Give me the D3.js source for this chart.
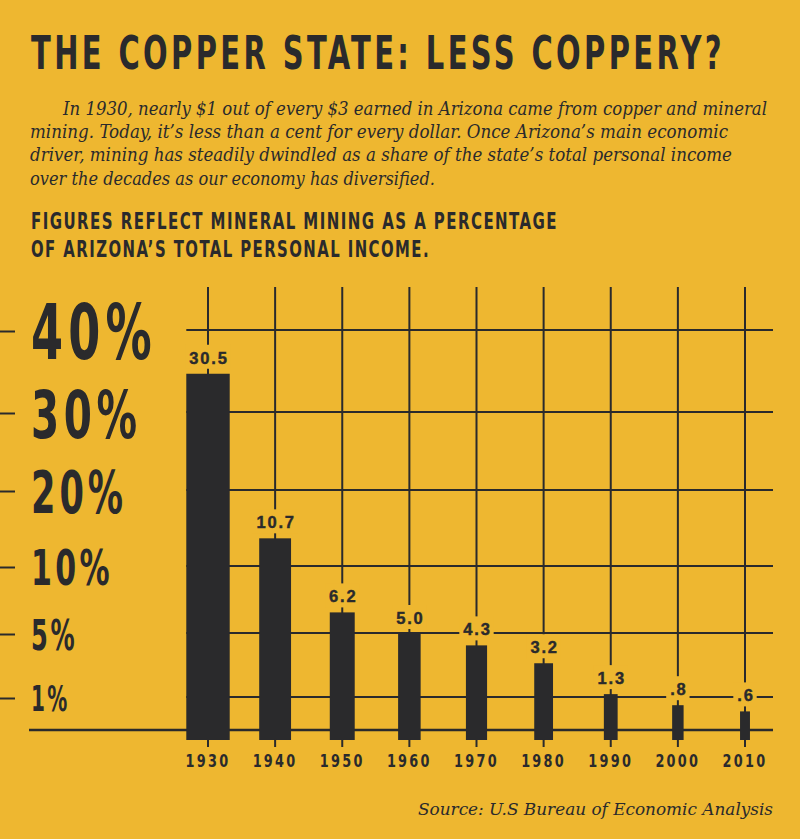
<!DOCTYPE html>
<html>
<head>
<meta charset="utf-8">
<script src="https://cdn.jsdelivr.net/npm/d3@7"></script>
<style>
  body { margin: 0; background: #eeb730; }
  svg { display: block; }
  .cond { font-family: "DejaVu Sans Condensed", "DejaVu Sans", sans-serif; font-stretch: condensed; font-weight: bold; }
  .serif { font-family: "DejaVu Serif Condensed", "DejaVu Serif", serif; font-stretch: condensed; font-style: italic; }
  .val { font-family: "Liberation Sans", Arial, sans-serif; font-weight: bold; }
</style>
</head>
<body>
<script>
// ---- data ----
var years = ["1930", "1940", "1950", "1960", "1970", "1980", "1990", "2000", "2010"];
var share = [30.5, 10.7, 6.2, 5.0, 4.3, 3.2, 1.3, 0.8, 0.6];
var shareLabels = ["30.5", "10.7", "6.2", "5.0", "4.3", "3.2", "1.3", ".8", ".6"];
var yTicks = [1, 5, 10, 20, 30, 40];

var title = "THE COPPER STATE: LESS COPPERY?";
var intro = [
  "In 1930, nearly $1 out of every $3 earned in Arizona came from copper and mineral",
  "mining. Today, it\u2019s less than a cent for every dollar. Once Arizona\u2019s main economic",
  "driver, mining has steadily dwindled as a share of the state\u2019s total personal income",
  "over the decades as our economy has diversified."
];
var subtitle = ["FIGURES REFLECT MINERAL MINING AS A PERCENTAGE", "OF ARIZONA\u2019S TOTAL PERSONAL INCOME."];
var source = "Source: U.S Bureau of Economic Analysis";

// ---- layout ----
var W = 800, H = 839;
var ink = "#2a2a2c";
var paper = "#eeb730";
var base = 730;

var svg = d3.select("body").append("svg").attr("width", W).attr("height", H);
svg.append("rect").attr("width", W).attr("height", H).attr("fill", paper);

// header
svg.append("text").attr("class", "cond")
  .attr("x", 31).attr("y", 69).attr("font-size", 47)
  .attr("letter-spacing", 5)
  .attr("textLength", 694).attr("lengthAdjust", "spacingAndGlyphs")
  .attr("fill", ink).text(title);

var introX = [63, 30, 30, 30], introLen = [704, 698, 702, 405];
svg.selectAll(".intro").data(intro).enter().append("text")
  .attr("class", "serif intro")
  .attr("x", function(d, i) { return introX[i]; })
  .attr("y", function(d, i) { return 115 + i * 23.2; })
  .attr("font-size", 18.5)
  .attr("textLength", function(d, i) { return introLen[i]; })
  .attr("lengthAdjust", "spacingAndGlyphs")
  .attr("fill", ink).text(function(d) { return d; });

var subLen = [527, 399];
svg.selectAll(".sub").data(subtitle).enter().append("text")
  .attr("class", "cond sub")
  .attr("x", 31).attr("y", function(d, i) { return 229 + i * 28; })
  .attr("font-size", 23)
  .attr("letter-spacing", 2)
  .attr("textLength", function(d, i) { return subLen[i]; })
  .attr("lengthAdjust", "spacingAndGlyphs")
  .attr("fill", ink).text(function(d) { return d; });

// ---- scales ----
var x = d3.scalePoint().domain(years).range([208, 745]);

// gridline scale (the printed axis is stretched, not linear)
var yGrid = d3.scaleLinear()
  .domain([0, 1, 5, 10, 20, 30, 40])
  .range([base, 697, 633, 566, 490, 412, 330]);

// the bars use their own stretched scale, like the print
var yBar = d3.scaleLinear()
  .domain([0, 1, 5, 10, 20, 30, 40])
  .range([base, 699, 634, 544, 463, 378, 293]);

function barW(v) { return 2.3 * Math.sqrt(base - yBar(v)); }

var gridLeft = x(years[0]) - barW(share[0]) / 2;
var gridRight = 773;

// horizontal gridlines
svg.selectAll(".hgrid").data(yTicks).enter().append("line")
  .attr("x1", gridLeft).attr("x2", gridRight)
  .attr("y1", function(d) { return yGrid(d); })
  .attr("y2", function(d) { return yGrid(d); })
  .attr("stroke", ink).attr("stroke-width", 2);

// vertical gridlines
svg.selectAll(".vgrid").data(years).enter().append("line")
  .attr("x1", function(d) { return x(d); }).attr("x2", function(d) { return x(d); })
  .attr("y1", 287).attr("y2", base)
  .attr("stroke", ink).attr("stroke-width", 2);

// baseline
svg.append("line").attr("x1", 29).attr("x2", gridRight)
  .attr("y1", base).attr("y2", base)
  .attr("stroke", ink).attr("stroke-width", 2.5);

// left ticks and big percent labels
svg.selectAll(".ltick").data(yTicks).enter().append("line")
  .attr("x1", 0).attr("x2", 15)
  .attr("y1", function(d) { return yGrid(d) + 1.5; })
  .attr("y2", function(d) { return yGrid(d) + 1.5; })
  .attr("stroke", ink).attr("stroke-width", 2);

function labelSize(v) { return 31 + 0.112 * (base - yGrid(v)); }

svg.selectAll(".ylab").data(yTicks).enter().append("text")
  .attr("class", "cond ylab")
  .attr("x", 31)
  .attr("y", function(d) { return yGrid(d) + 1.5 + labelSize(d) * 0.729 / 2; })
  .attr("font-size", function(d) { return labelSize(d); })
  .attr("letter-spacing", function(d) { return labelSize(d) * 0.1; })
  .attr("textLength", function(d) { return 0.553 * labelSize(d) * (d + "%").length; })
  .attr("lengthAdjust", "spacingAndGlyphs")
  .attr("fill", ink).text(function(d) { return d + "%"; });

// bars
var bars = svg.selectAll(".bar").data(share).enter().append("g");

bars.append("rect")
  .attr("x", function(d, i) { return x(years[i]) - barW(d) / 2; })
  .attr("y", function(d) { return yBar(d); })
  .attr("width", function(d) { return barW(d); })
  .attr("height", function(d) { return base + 10 - yBar(d); })
  .attr("fill", ink);

bars.append("line")
  .attr("x1", function(d, i) { return x(years[i]); })
  .attr("x2", function(d, i) { return x(years[i]); })
  .attr("y1", base + 9).attr("y2", base + 17)
  .attr("stroke", ink).attr("stroke-width", 2);

// value labels with a patch of background behind them
var vals = bars.append("text")
  .attr("class", "val")
  .attr("x", function(d, i) { return x(years[i]) + 1; })
  .attr("y", function(d) { return yBar(d) - 10; })
  .attr("text-anchor", "middle")
  .attr("font-size", 16.5)
  .attr("letter-spacing", 1.8)
  .attr("stroke", ink).attr("stroke-width", 0.4)
  .attr("fill", ink)
  .text(function(d, i) { return shareLabels[i]; });

vals.each(function(d) {
  var b = this.getBBox();
  d3.select(this.parentNode).insert("rect", "text")
    .attr("x", b.x - 4).attr("width", b.width + 6)
    .attr("y", yBar(d) - 29).attr("height", 24)
    .attr("fill", paper);
});

// year labels
svg.selectAll(".year").data(years).enter().append("text")
  .attr("class", "cond year")
  .attr("x", function(d) { return x(d); })
  .attr("y", 767)
  .attr("text-anchor", "middle")
  .attr("font-size", 18.5)
  .attr("letter-spacing", 3)
  .attr("textLength", 45).attr("lengthAdjust", "spacingAndGlyphs")
  .attr("fill", ink).text(function(d) { return d; });

// source
svg.append("text").attr("class", "serif")
  .attr("x", 418).attr("y", 815)
  .attr("font-size", 17.5)
  .attr("textLength", 355).attr("lengthAdjust", "spacingAndGlyphs")
  .attr("fill", ink).text(source);
</script>
</body>
</html>
